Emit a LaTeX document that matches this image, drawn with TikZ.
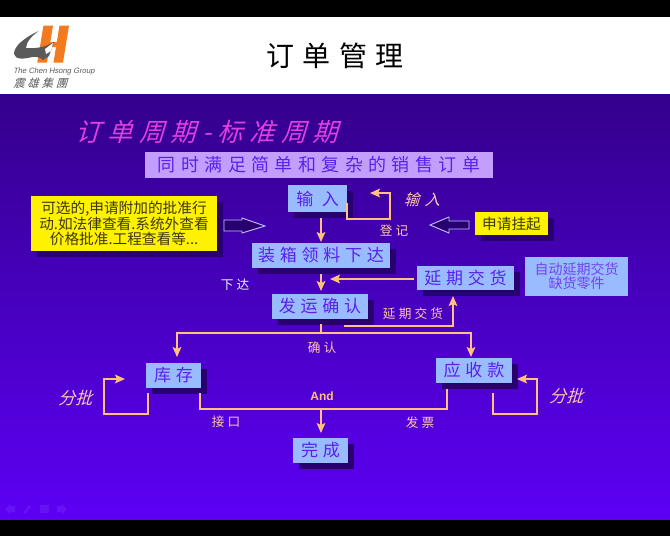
\documentclass[tikz,border=0pt]{standalone}
\usepackage{fontspec}
\setmainfont{Noto Sans CJK SC}
\newfontfamily\cjk{Noto Sans CJK SC}
\newfontfamily\cjkit[FakeSlant=0.3]{Noto Sans CJK SC}
\newfontfamily\latinit[FakeSlant=0.2]{Liberation Sans}
\newfontfamily\latinb{Liberation Sans}
\newcommand{\sz}[1]{\fontsize{#1}{#1}\selectfont}
\definecolor{boxblue}{HTML}{99BBFF}
\definecolor{boxtext}{HTML}{5A20EC}
\definecolor{shadowc}{HTML}{280070}
\definecolor{wire}{HTML}{FFC080}
\definecolor{lilac}{HTML}{C49EFF}
\definecolor{labelc}{HTML}{FFC8B0}
\definecolor{yellowtext}{HTML}{3C3810}
\definecolor{bgtop}{HTML}{34008C}
\definecolor{bgbot}{HTML}{5C00F4}
\definecolor{logoorange}{HTML}{F47A20}
\definecolor{logogrey}{HTML}{5A5A5A}
\definecolor{subt}{HTML}{E040E0}
\usetikzlibrary{arrows.meta}
\tikzset{
  block/.style={anchor=center,inner sep=0pt,text=boxtext,fill=boxblue,font=\cjk\sz{12.75}\addfontfeature{LetterSpace=28}},
  yellowbox/.style={inner sep=0pt,fill=yellow,text=yellowtext,align=center},
  plain/.style={inner sep=0pt,font=\cjk\sz{9.5}\addfontfeature{LetterSpace=25},text=labelc},
  slanted/.style={inner sep=0pt,font=\cjkit\sz{12.75},text=labelc},
  wireline/.style={draw=wire,line width=1.7pt,line join=miter},
  flow/.style={wireline,-{Stealth[length=7.5pt,width=6.5pt,inset=1.5pt]}},
  hollow/.style={draw=white!75!blue,line width=0.7pt,fill=shadowc,line join=miter},
}
\newcommand{\bx}[6]{% name, x0,y0,x1,y1, text
  \fill[shadowc] (#2+6,#3+6) rectangle (#4+6,#5+6);
  \node[block,minimum width=#4*0.75pt-#2*0.75pt,minimum height=#5*0.75pt-#3*0.75pt] (#1) at ({(#2+#4)/2},{(#3+#5)/2}) {#6};
}
\begin{document}
\begin{tikzpicture}[x=0.75pt,y=-0.75pt]
\useasboundingbox (0,0) rectangle (670,536);
\fill[black] (0,0) rectangle (670,536);
\fill[white] (0,17) rectangle (670,94);
\shade[top color=bgtop,bottom color=bgbot,shading angle=0] (0,94) rectangle (670,519);

% logo
\fill[logoorange] (43.5,25.5) -- (53,25.5) -- (47,62.5) -- (37.3,62.5) -- cycle;
\fill[logoorange] (59.5,25.5) -- (69,25.5) -- (63,62.5) -- (53.5,62.5) -- cycle;
\fill[logoorange] (46,42) -- (62,42) -- (60,47) -- (45,47) -- cycle;
\fill[logogrey] (38.5,31) .. controls (24,38) and (14,46) .. (14,54) .. controls (15,60) and (25,59) .. (32,57) .. controls (37,56) and (41,58) .. (43,60) -- (49,56) -- (54,42) .. controls (46,47) and (35,49) .. (26,48) .. controls (26,42) and (32,36) .. (38.5,31) -- cycle;
\fill[white] (45,49) -- (53,43) -- (51,51) -- (46,54) -- cycle;
\node[inner sep=0pt,anchor=west,text=logogrey,font=\latinit\sz{5.75}] (logoa) at (13,72) {The Chen Hsong Group};
\node[inner sep=0pt,anchor=west,text=logogrey,font=\cjkit\sz{8.5}\addfontfeature{LetterSpace=25}] (logob) at (13,83.5) {震雄集團};

% titles
\node[inner sep=0pt,text=black,font=\cjk\sz{21}\addfontfeature{LetterSpace=30}] (title) at (335,56) {订单管理};
\node[inner sep=0pt,text=subt,font=\cjkit\sz{19}\addfontfeature{LetterSpace=25}] (subtitle) at (207,132) {订单周期-标准周期};
\node[inner sep=0pt,fill=lilac,minimum width=261pt,minimum height=19.5pt,text=boxtext,font=\cjk\sz{13.5}\addfontfeature{LetterSpace=30}] (banner) at (319,165) {同时满足简单和复杂的销售订单};

% boxes
\bx{shuru}{288}{185}{347}{212}{\addfontfeature{LetterSpace=50}输入}
\bx{zhuang}{252}{243}{390}{268}{装箱领料下达}
\bx{yanqi}{417}{266}{514}{290}{延期交货}
\bx{fayun}{272}{294}{368}{319}{发运确认}
\bx{kucun}{146}{363}{201}{388}{库存}
\bx{yingshou}{436}{358}{512}{383}{应收款}
\bx{wancheng}{293}{438}{348}{463}{完成}

% yellow boxes
\fill[shadowc] (37,202) rectangle (223,257);
\node[yellowbox,minimum width=139.5pt,minimum height=41pt,font=\cjk\sz{11}] (optional) at (124,223.5) {可选的,申请附加的批准行\\动.如法律查看.系统外查看\\价格批准.工程查看等...};
\fill[shadowc] (481,218) rectangle (554,241);
\node[yellowbox,minimum width=54.75pt,minimum height=17.25pt,font=\cjk\sz{11}] (suspend) at (511.5,223.5) {申请挂起};

% side note
\node[inner sep=0pt,fill=boxblue,minimum width=77.25pt,minimum height=29.25pt,text=boxtext!85!white,align=center,font=\cjk\sz{10.5}] (auto) at (576.5,276.5) {自动延期交货\\缺货零件};

% hollow arrows
\draw[hollow] (224,220) -- (242,220) -- (242,218) -- (265,226) -- (242,233) -- (242,231) -- (224,231) -- cycle;
\draw[hollow] (469,221) -- (449,221) -- (449,217) -- (430,225) -- (449,233) -- (449,229) -- (469,229) -- cycle;

% named free ends
\coordinate (a1) at (321,218);
\coordinate (a2) at (321,242);
\coordinate (b1) at (321,274);
\coordinate (b2) at (321,291);
\coordinate (c1) at (414,279);
\coordinate (c2) at (330,279);
\coordinate (d1) at (345,325);
\coordinate (d2) at (453,326);
\coordinate (d3) at (453,296);
\coordinate (e1) at (321,324);
\coordinate (e2) at (321,333);
\coordinate (e3) at (177,333);
\coordinate (e4) at (177,357);
\coordinate (e5) at (471,333);
\coordinate (e6) at (471,357);
\coordinate (f1) at (347,203);
\coordinate (f2) at (347,219);
\coordinate (f3) at (390,219);
\coordinate (f4) at (390,193);
\coordinate (f5) at (370,193);
\coordinate (g1) at (148,393);
\coordinate (g2) at (148,414);
\coordinate (g3) at (104,414);
\coordinate (g4) at (104,379);
\coordinate (g5) at (125,379);
\coordinate (h1) at (200,393);
\coordinate (h2) at (200,409);
\coordinate (h3) at (447,409);
\coordinate (h4) at (447,389);
\coordinate (h5) at (321,409);
\coordinate (h6) at (321,433);
\coordinate (k1) at (493,393);
\coordinate (k2) at (493,414);
\coordinate (k3) at (537,414);
\coordinate (k4) at (537,379);
\coordinate (k5) at (517,379);

% connectors
\draw[flow] (a1) -- (a2);
\draw[flow] (b1) -- (b2);
\draw[flow] (c1) -- (c2);
\draw[flow] (d1) -- (d1 |- d2) -- (d2) -- (d3);
\draw[wireline] (e1) -- (e2);
\draw[flow] (e2) -- (e3) -- (e4);
\draw[flow] (e2) -- (e5) -- (e6);
\draw[flow] (f1) -- (f2) -- (f3) -- (f4) -- (f5);
\draw[flow] (g1) -- (g2) -- (g3) -- (g4) -- (g5);
\draw[wireline] (h1) -- (h2) -- (h3) -- (h4);
\draw[flow] (h5) -- (h6);
\draw[flow] (k1) -- (k2) -- (k3) -- (k4) -- (k5);

% labels
\node[slanted,font=\cjkit\sz{11.5}\addfontfeature{LetterSpace=35}] (l1) at (422,200) {输入};
\node[plain] (l2) at (394,231) {登记};
\node[plain,text=white!80!boxblue] (l3) at (235,285) {下达};
\node[plain] (l4) at (413,314) {延期交货};
\node[plain] (l5) at (322,348) {确认};
\node[inner sep=0pt,font=\latinb\bfseries\sz{9},text=wire] (l6) at (322,396) {And};
\node[plain] (l7) at (226,422) {接口};
\node[plain] (l8) at (420,423) {发票};
\node[slanted] (l9) at (75,398) {分批};
\node[slanted] (l10) at (566,396) {分批};

% faint slide-navigation icons
\begin{scope}[fill=white,fill opacity=0.07]
\fill (15,506) -- (10,506) -- (10,504) -- (5,509) -- (10,514) -- (10,512) -- (15,512) -- cycle;
\fill (23,513) -- (29,505) -- (31,507) -- (25,514) -- cycle;
\fill (40,505) rectangle (49,513);
\fill (57,506) -- (62,506) -- (62,504) -- (67,509) -- (62,514) -- (62,512) -- (57,512) -- cycle;
\end{scope}
\end{tikzpicture}
\end{document}
